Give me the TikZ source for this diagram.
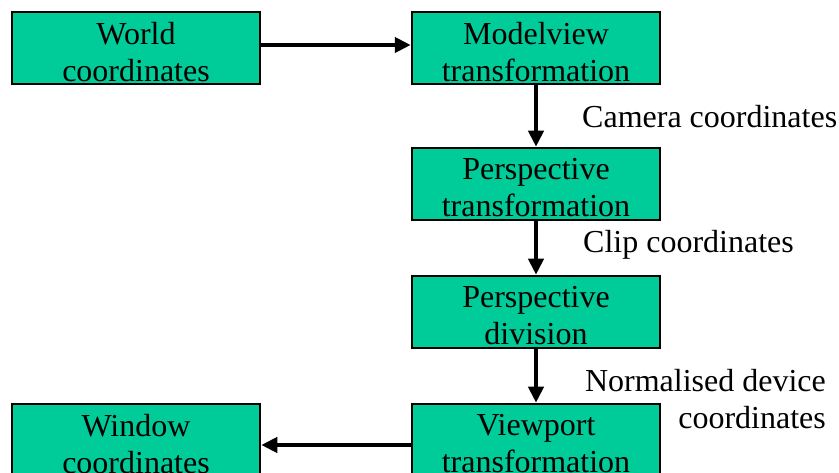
\documentclass[tikz,border=0pt]{standalone}
\usepackage{fontspec}
\setmainfont{Liberation Serif}
\usetikzlibrary{arrows.meta}

\begin{document}
\begin{tikzpicture}[x=1pt, y=-1pt,
    stage/.style={draw=black, line width=2.5pt, fill=stagegreen, minimum width=248pt,
      minimum height=72pt, inner sep=0pt},
    caption/.style={align=center, inner sep=0pt, yshift=-4pt,
      font=\fontsize{32}{37}\selectfont},
    flow/.style={line width=4pt, -{Triangle[length=16pt, width=15pt]}},
    note/.style={font=\fontsize{32}{37}\selectfont, inner sep=0pt}]
  \definecolor{stagegreen}{HTML}{00CC99}
  % fix the page to the size of the original
  \useasboundingbox (0,0) rectangle (839,473);

  % The stages of the pipeline
  \node[stage, label={[caption]center:World\\coordinates}] (world) at (136,48) {};
  \node[stage, label={[caption]center:Modelview\\transformation}] (modelview) at (536,48) {};
  \node[stage, label={[caption]center:Perspective\\transformation}] (persp) at (536,184) {};
  \node[stage, label={[caption]center:Perspective\\division}] (division) at (536,312) {};
  \node[stage, label={[caption]center:Viewport\\transformation}] (viewport) at (536,440) {};
  \node[stage, label={[caption]center:Window\\coordinates}] (window) at (136,440) {};

  % Arrows between the stages
  \draw[flow] ([yshift=3pt]world.east) -- ([yshift=3pt]modelview.west);
  \draw[flow] (modelview) -- (persp);
  \draw[flow] (persp) -- (division);
  \draw[flow] (division) -- (viewport);
  \draw[flow] ([yshift=-5pt]viewport.west) -- ([yshift=-5pt]window.east);

  % Names of the coordinate systems
  \node[note, anchor=west] (camera) at (582,117) {Camera coordinates};
  \node[note, anchor=west] (clip) at (583,245) {Clip coordinates};
  \node[note, anchor=north east, align=right] (ndc) at (826,369) {Normalised device\\coordinates};
\end{tikzpicture}
\end{document}
